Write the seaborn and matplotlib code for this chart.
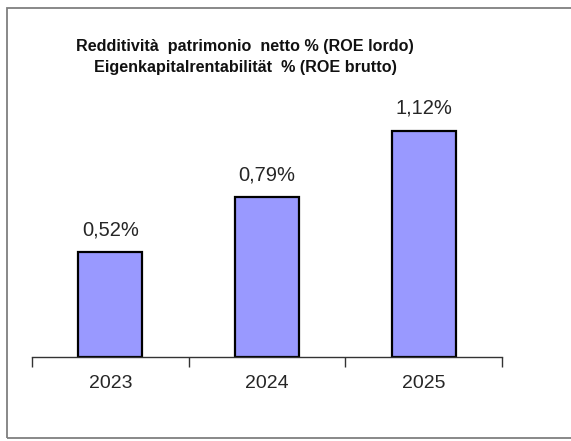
import matplotlib.pyplot as plt
import pandas as pd
import seaborn as sns
from matplotlib.patches import Rectangle

years = ["2023", "2024", "2025"]
roe = [0.52, 0.79, 1.12]
labels = ["0,52%", "0,79%", "1,12%"]

title = "Redditività  patrimonio  netto % (ROE lordo)\nEigenkapitalrentabilität  % (ROE brutto)"


def make_plot():
    sns.set_style("white")
    plt.rcParams["font.family"] = ["Liberation Sans", "DejaVu Sans"]

    df = pd.DataFrame({"year": years, "roe": roe})

    fig = plt.figure(figsize=(5.71, 4.41), dpi=100)
    ax = fig.add_axes([32 / 571, 1 - 357 / 441, 470 / 571, 257 / 441])

    sns.barplot(
        data=df,
        x="year",
        y="roe",
        color="#9999FF",
        saturation=1,
        width=0.41,
        edgecolor="black",
        linewidth=1.6,
        ax=ax,
    )
    ax.set_xlim(-0.5, 2.5)
    ax.set_ylim(0, 1.272)

    for i, (v, lab) in enumerate(zip(roe, labels)):
        ax.annotate(lab, (i, v), xytext=(0, 16), textcoords="offset points",
                    ha="center", va="center", fontsize=14.5, color="#262626")

    sns.despine(ax=ax, left=True)
    ax.spines["bottom"].set_color("#333333")
    ax.spines["bottom"].set_linewidth(1.0)
    ax.set_yticks([])
    ax.set_xlabel("")
    ax.set_ylabel("")
    ax.set_xticks([0, 1, 2])
    ax.set_xticklabels(years, fontsize=14, color="#262626")
    ax.tick_params(axis="x", which="major", length=0, pad=13)
    ax.set_xticks([-0.5, 0.5, 1.5, 2.5], minor=True)
    ax.tick_params(axis="x", which="minor", length=7, width=1.0,
                   color="#333333", direction="out", bottom=True)

    fig.text(245 / 571, 1 - 57 / 441, title, ha="center", va="center",
             fontsize=11.6, fontweight="bold", color="#111111", linespacing=1.42)

    fig.patches.append(Rectangle((7 / 571, 1 - 438 / 441), 1.1, 430 / 441,
                                 transform=fig.transFigure, fill=False,
                                 edgecolor="#7f7f7f", linewidth=1.3))

    fig.savefig("out.png", dpi=100)


if __name__ == "__main__":
    make_plot()
